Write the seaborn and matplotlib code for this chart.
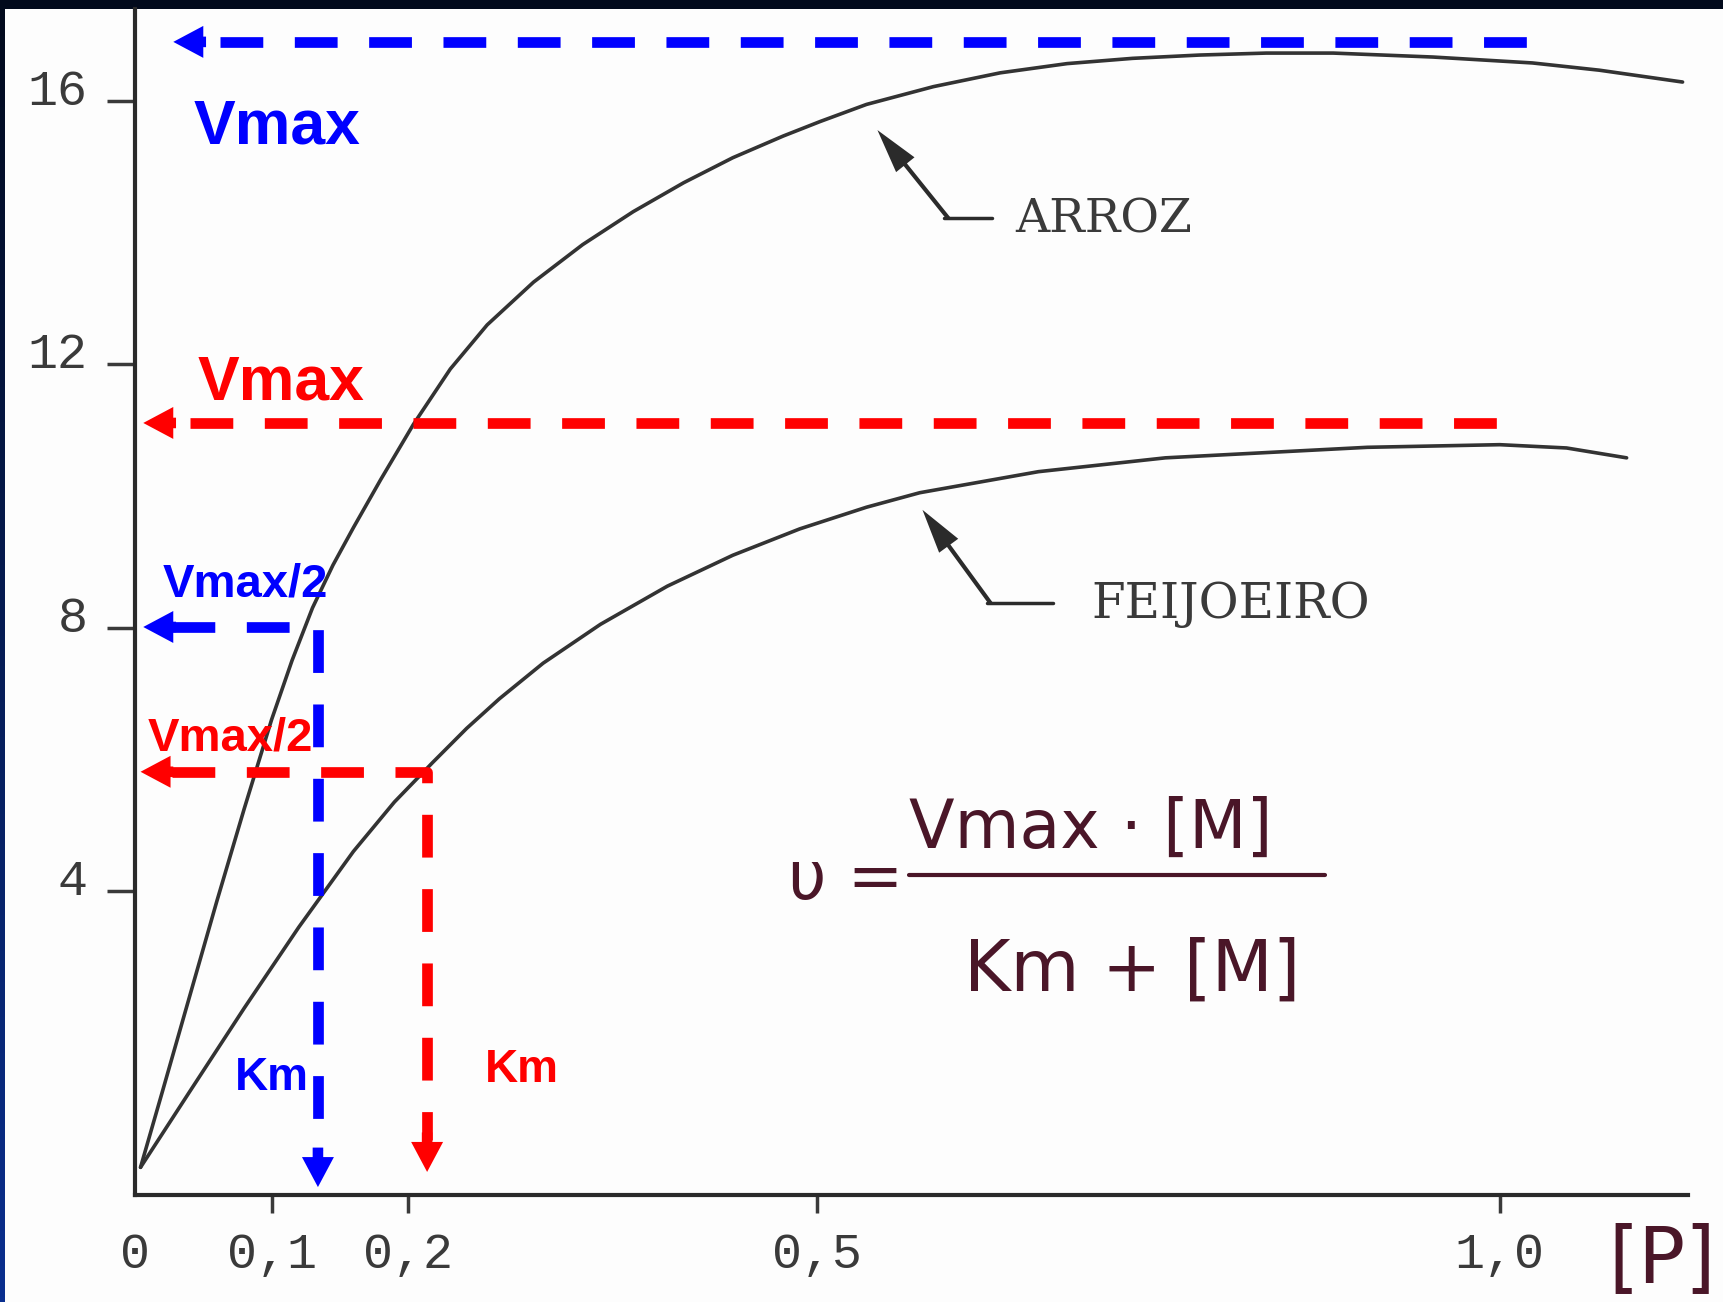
import numpy as np
import matplotlib
matplotlib.use('Agg')
import matplotlib.pyplot as plt
import matplotlib.transforms as mtransforms
from matplotlib.colors import LinearSegmentedColormap
from matplotlib.patches import Rectangle
import seaborn as sns

# curves ([P] vs velocity)
arroz_p = [0.004, 0.020, 0.040, 0.060, 0.080, 0.100, 0.115, 0.130, 0.145, 0.160, 0.180, 0.204,
           0.231, 0.258, 0.292, 0.328, 0.365, 0.402, 0.438, 0.475, 0.502, 0.536, 0.585,
           0.634, 0.683, 0.731, 0.780, 0.829, 0.878, 0.951, 1.024, 1.073, 1.134]
arroz_v = [-0.2, 0.95, 2.40, 3.85, 5.25, 6.60, 7.50, 8.30, 8.95, 9.52, 10.25, 11.09,
           11.93, 12.60, 13.25, 13.82, 14.32, 14.76, 15.14, 15.47, 15.69, 15.95, 16.22,
           16.43, 16.57, 16.65, 16.70, 16.73, 16.73, 16.67, 16.58, 16.47, 16.29]
feijao_p = [0.004, 0.040, 0.080, 0.120, 0.160, 0.190, 0.218, 0.243, 0.267, 0.299, 0.341,
            0.390, 0.438, 0.487, 0.536, 0.575, 0.662, 0.755, 0.903, 1.000, 1.049, 1.093]
feijao_v = [-0.2, 0.95, 2.22, 3.45, 4.60, 5.35, 5.95, 6.47, 6.92, 7.46, 8.05,
            8.63, 9.10, 9.50, 9.83, 10.05, 10.37, 10.58, 10.74, 10.78, 10.73, 10.58]

# annotation values (blue = arroz, red = feijoeiro)
vmax_blue, half_blue, km_blue = 16.90, 8.01, 0.134
vmax_red, half_red, km_red = 11.11, 5.81, 0.214

x_ticks = [0, 0.1, 0.2, 0.5, 1.0]
x_labels = ['0', '0,1', '0,2', '0,5', '1,0']
y_ticks = [4, 8, 12, 16]
y_labels = ['4', '8', '12', '16']

BLUE = '#0000ff'
RED = '#ff0000'
INK = '#333333'
MAROON = '#4a1628'

sns.set_theme(style='white')
plt.rcParams['font.family'] = ['DejaVu Sans']

fig = plt.figure(figsize=(17.23, 13.02), dpi=100)

# dark slide frame behind the scanned page
bg = fig.add_axes([0, 0, 1, 1], zorder=-2)
cmap = LinearSegmentedColormap.from_list('frame', ['#020a1c', '#0a2f8f'])
bg.imshow(np.linspace(0, 1, 256).reshape(-1, 1), aspect='auto', cmap=cmap)
bg.axis('off')
fig.patches.append(Rectangle((5 / 1723, 0), 1, 1 - 9 / 1302, transform=fig.transFigure,
                             fc='#fdfdfd', ec='none', zorder=-1))

ax = fig.add_axes([0.0784, 0.0822, 0.9013, 0.9109])
ax.patch.set_alpha(0)

sns.lineplot(x=arroz_p, y=arroz_v, ax=ax, color=INK, lw=2.6, sort=False, estimator=None)
sns.lineplot(x=feijao_p, y=feijao_v, ax=ax, color=INK, lw=2.6, sort=False, estimator=None)

ax.set_xlim(0, 1.138)
ax.set_ylim(-0.62, 17.4)
for s in ['top', 'right']:
    ax.spines[s].set_visible(False)
for s in ['left', 'bottom']:
    ax.spines[s].set_color('#2a2a2a')
    ax.spines[s].set_linewidth(3)

ax.set_xticks(x_ticks)
ax.set_xticklabels(x_labels)
ax.set_yticks(y_ticks)
ax.set_yticklabels(y_labels)
ax.tick_params(axis='x', direction='out', length=13, width=2.5, pad=14, labelsize=36,
               colors='#3a3a3a', bottom=True)
ax.tick_params(axis='y', direction='out', length=20, width=2.5, pad=14, labelsize=36,
               colors='#3a3a3a', left=True)
ax.xaxis.get_major_ticks()[0].tick1line.set_visible(False)
up = mtransforms.ScaledTranslation(0, 0.14, fig.dpi_scale_trans)
for lab in ax.get_yticklabels():
    lab.set_family('Liberation Mono')
    lab.set_transform(lab.get_transform() + up)
for lab in ax.get_xticklabels():
    lab.set_family('Liberation Mono')

# dashed guide lines with arrow heads
dash = dict(lw=7.7, linestyle=(0, (4, 2.95)), dash_capstyle='butt', solid_capstyle='butt')


def head(tip, tail, color, hl=2.16, hw=2.3, tw=0.76):
    ax.annotate('', xy=tip, xytext=tail,
                arrowprops=dict(arrowstyle=f'simple,head_length={hl},head_width={hw},tail_width={tw}',
                                mutation_scale=10, fc=color, ec='none', shrinkA=0, shrinkB=0))


ax.plot([0.062, 1.023], [vmax_blue, vmax_blue], color=BLUE, **dash)
head((0.028, vmax_blue), (0.052, vmax_blue), BLUE)
ax.plot([0.040, 1.001], [vmax_red, vmax_red], color=RED, **dash)
head((0.006, vmax_red), (0.030, vmax_red), RED)

ax.plot([0.027, km_blue, km_blue], [half_blue, half_blue, 0.06], color=BLUE, **dash)
head((0.006, half_blue), (0.030, half_blue), BLUE)
head((km_blue, -0.50), (km_blue, 0.10), BLUE)
ax.plot([0.027, km_red, km_red], [half_red, half_red, 0.21], color=RED, **dash)
head((0.004, half_red), (0.028, half_red), RED)
head((km_red, -0.27), (km_red, 0.33), RED)

bold = dict(family='Liberation Sans', fontweight='bold', ha='left', va='baseline')
ax.text(0.0425, 15.36, 'Vmax', color=BLUE, fontsize=45, **bold)
ax.text(0.046, 11.46, 'Vmax', color=RED, fontsize=45, **bold)
ax.text(0.0205, 8.47, 'Vmax/2', color=BLUE, fontsize=34, **bold)
ax.text(0.0095, 6.14, 'Vmax/2', color=RED, fontsize=34, **bold)
ax.text(0.073, 0.97, 'Km', color=BLUE, fontsize=33, **bold)
ax.text(0.256, 1.09, 'Km', color=RED, fontsize=33, **bold)

# curve names with leader arrows
ax.text(0.645, 14.0, 'ARROZ', family='DejaVu Serif', fontsize=34, color='#3a3a3a', va='baseline')
ax.plot([0.593, 0.628], [14.22, 14.22], color='#2b2b2b', lw=2.5)
head((0.544, 15.56), (0.596, 14.22), '#2b2b2b', hl=3.2, hw=1.7, tw=0.3)
ax.text(0.701, 8.15, 'FEIJOEIRO', family='DejaVu Serif', fontsize=35, color='#3a3a3a', va='baseline')
ax.plot([0.624, 0.673], [8.37, 8.37], color='#2b2b2b', lw=2.5)
head((0.577, 9.79), (0.627, 8.37), '#2b2b2b', hl=3.2, hw=1.7, tw=0.3)

# handwritten Michaelis-Menten formula
ax.text(0.521, 4.16, 'υ =', fontsize=48, color=MAROON, ha='center', va='center')
ax.plot([0.567, 0.872], [4.24, 4.24], color=MAROON, lw=3)
ax.text(0.700, 4.65, 'Vmax · [M]', fontsize=48, color=MAROON, ha='center', va='baseline')
ax.text(0.731, 2.49, 'Km + [M]', fontsize=51, color=MAROON, ha='center', va='baseline')

fig.text(1662 / 1723, 1 - 1282 / 1302, '[P]', fontsize=56, color=MAROON, ha='center', va='baseline')

fig.savefig('out.png', dpi=100)
